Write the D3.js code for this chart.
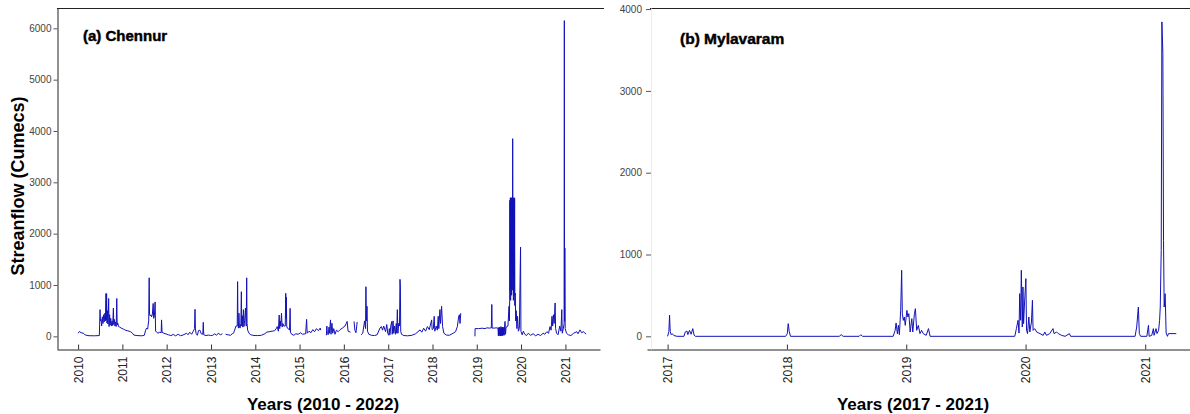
<!DOCTYPE html>
<html>
<head>
<meta charset="utf-8">
<script src="https://cdn.jsdelivr.net/npm/d3@7"></script>
<style>
  html, body { margin: 0; padding: 0; background: #fff; }
  svg { display: block; font-family: Arial, "Liberation Sans", sans-serif; }
</style>
</head>
<body>
<svg id="chart" width="1190" height="414"></svg>
<script>
// ---- Data: daily streamflow (cumecs) at two gauging stations ----
const chennurYears = [2010, 2011, 2012, 2013, 2014, 2015, 2016, 2017, 2018, 2019, 2020, 2021];
const chennurFlowTicks = [0, 1000, 2000, 3000, 4000, 5000, 6000];
// [date, flow]; null marks a gap in the record
const chennurFlow = [
  ["2010-01-01", 60], ["2010-01-12", 95], ["2010-01-25", 70], ["2010-02-15", 60], ["2010-03-01", 25],
  ["2010-04-01", 12], ["2010-05-15", 10], ["2010-06-25", 15], ["2010-07-01", 520], ["2010-07-04", 300],
  ["2010-07-09", 330], ["2010-07-14", 200], ["2010-07-20", 380], ["2010-07-25", 250], ["2010-07-30", 420],
  ["2010-08-04", 280], ["2010-08-10", 450], ["2010-08-14", 300], ["2010-08-19", 835], ["2010-08-21", 320],
  ["2010-08-24", 830], ["2010-08-27", 260], ["2010-08-31", 500], ["2010-09-04", 240], ["2010-09-10", 737],
  ["2010-09-13", 190], ["2010-09-18", 420], ["2010-09-22", 220], ["2010-09-27", 350], ["2010-10-02", 200],
  ["2010-10-08", 300], ["2010-10-13", 210], ["2010-10-19", 550], ["2010-10-22", 230], ["2010-10-27", 330],
  ["2010-11-01", 200], ["2010-11-06", 280], ["2010-11-11", 190], ["2010-11-16", 737], ["2010-11-19", 220],
  ["2010-11-24", 260], ["2010-11-30", 190], ["2010-12-10", 180], ["2010-12-22", 160],
  ["2011-01-10", 140], ["2011-01-25", 120], ["2011-02-10", 110], ["2011-02-25", 100], ["2011-03-10", 90],
  ["2011-03-25", 60], ["2011-04-05", 25], ["2011-05-01", 15], ["2011-06-10", 10], ["2011-07-01", 20],
  ["2011-07-12", 120], ["2011-07-20", 160], ["2011-07-28", 140], ["2011-08-06", 300], ["2011-08-10", 1140],
  ["2011-08-13", 420], ["2011-08-18", 400], ["2011-08-24", 420], ["2011-08-30", 380], ["2011-09-05", 420],
  ["2011-09-12", 640], ["2011-09-16", 350], ["2011-09-22", 400], ["2011-09-28", 670], ["2011-10-02", 100],
  ["2011-10-10", 90], ["2011-10-20", 60], ["2011-11-05", 80], ["2011-11-17", 70], ["2011-11-20", 320],
  ["2011-11-24", 80], ["2011-12-10", 60], ["2011-12-28", 45],
  ["2012-01-15", 30], ["2012-02-05", 15], ["2012-02-25", 35], ["2012-03-15", 10], ["2012-04-05", 40],
  ["2012-04-25", 12], ["2012-05-15", 25], ["2012-06-13", 60], ["2012-06-25", 30], ["2012-07-10", 80],
  ["2012-07-25", 40], ["2012-08-08", 100], ["2012-08-18", 150], ["2012-08-22", 526], ["2012-08-25", 160],
  ["2012-08-30", 60], ["2012-09-10", 20], ["2012-09-20", 110], ["2012-10-01", 120], ["2012-10-12", 50],
  ["2012-10-25", 40], ["2012-10-29", 272], ["2012-11-02", 30], ["2012-11-20", 15], ["2012-12-10", 25],
  ["2012-12-28", 15],
  ["2013-01-15", 20], ["2013-02-01", 50], ["2013-02-15", 20], ["2013-03-01", 60], ["2013-03-20", 30],
  ["2013-04-05", 50], ["2013-04-08", null], ["2013-05-01", 40], ["2013-05-20", 30], ["2013-06-10", 20],
  ["2013-06-25", 50], ["2013-07-05", 60], ["2013-07-15", 120], ["2013-07-25", 200], ["2013-08-05", 200],
  ["2013-08-08", 1065], ["2013-08-11", 300], ["2013-08-15", 160], ["2013-08-19", 450], ["2013-08-23", 200],
  ["2013-08-28", 160], ["2013-09-04", 250], ["2013-09-08", 870], ["2013-09-11", 200], ["2013-09-16", 400],
  ["2013-09-20", 180], ["2013-09-25", 520], ["2013-09-29", 190], ["2013-10-05", 300], ["2013-10-12", 550],
  ["2013-10-18", 200], ["2013-10-22", 1140], ["2013-10-25", 250], ["2013-10-30", 120], ["2013-11-10", 60],
  ["2013-11-25", 30], ["2013-12-10", 20], ["2013-12-30", 15],
  ["2014-01-20", 15], ["2014-02-20", 20], ["2014-03-20", 50], ["2014-04-05", 80], ["2014-04-25", 90],
  ["2014-05-20", 100], ["2014-06-10", 110], ["2014-06-25", 160], ["2014-07-01", 190], ["2014-07-10", 100],
  ["2014-07-17", 415], ["2014-07-21", 150], ["2014-07-26", 300], ["2014-07-30", 200], ["2014-08-05", 450],
  ["2014-08-10", 180], ["2014-08-16", 250], ["2014-08-24", 200], ["2014-09-05", 200], ["2014-09-09", 838],
  ["2014-09-12", 350], ["2014-09-14", 760], ["2014-09-17", 200], ["2014-09-22", 160], ["2014-10-01", 150],
  ["2014-10-10", 120], ["2014-10-15", 545], ["2014-10-18", 80], ["2014-10-28", 40], ["2014-11-15", 20],
  ["2014-12-01", 50], ["2014-12-20", 40],
  ["2015-01-10", 70], ["2015-01-25", 40], ["2015-02-20", 50], ["2015-02-28", 330], ["2015-03-05", 60],
  ["2015-03-20", 100], ["2015-04-05", 70], ["2015-04-20", 130], ["2015-05-05", 90], ["2015-05-20", 150],
  ["2015-06-05", 110], ["2015-06-20", 160], ["2015-06-24", 120], ["2015-07-01", null], ["2015-08-10", 20],
  ["2015-08-14", 200], ["2015-08-18", 50], ["2015-08-25", 30], ["2015-09-01", 180], ["2015-09-05", 60],
  ["2015-09-13", 320], ["2015-09-17", 40], ["2015-09-25", 255], ["2015-10-01", 60], ["2015-10-10", 150],
  ["2015-10-20", 40], ["2015-11-01", 120], ["2015-11-15", 90], ["2015-12-01", 130], ["2015-12-20", 160],
  ["2016-01-10", 200], ["2016-01-22", 255], ["2016-01-28", 290], ["2016-02-05", 100], ["2016-02-25", 80],
  ["2016-03-01", null], ["2016-03-25", 290], ["2016-04-01", 120], ["2016-04-10", 70], ["2016-04-20", 280],
  ["2016-04-28", null], ["2016-05-22", 30], ["2016-06-05", 60], ["2016-06-20", 300], ["2016-06-28", 150],
  ["2016-07-01", 966], ["2016-07-05", 300], ["2016-07-10", 585], ["2016-07-14", 100], ["2016-07-25", 40],
  ["2016-08-15", 20], ["2016-09-10", 15], ["2016-10-01", 30], ["2016-10-25", 160], ["2016-11-05", 190],
  ["2016-11-15", 120], ["2016-11-25", 200], ["2016-12-10", 90], ["2016-12-20", 230], ["2016-12-28", 60],
  ["2017-01-05", 20], ["2017-01-10", 150], ["2017-01-15", 30], ["2017-01-22", 200], ["2017-01-30", 290],
  ["2017-02-03", 40], ["2017-02-10", 300], ["2017-02-15", 60], ["2017-02-22", 200], ["2017-03-01", 40],
  ["2017-03-08", 250], ["2017-03-12", 60], ["2017-03-17", 520], ["2017-03-22", 60], ["2017-03-28", 250],
  ["2017-04-04", 200], ["2017-04-08", 1110], ["2017-04-11", 960], ["2017-04-14", 100], ["2017-04-20", 40],
  ["2017-05-10", 15], ["2017-06-10", 10], ["2017-07-15", 20], ["2017-08-15", 50], ["2017-09-20", 125],
  ["2017-10-05", 80], ["2017-10-20", 158], ["2017-11-05", 100], ["2017-11-20", 190], ["2017-12-05", 130],
  ["2017-12-25", 320], ["2017-12-29", 130],
  ["2018-01-08", 150], ["2018-01-15", 390], ["2018-01-20", 100], ["2018-02-01", 200], ["2018-02-10", 120],
  ["2018-02-17", 390], ["2018-02-22", 150], ["2018-03-03", 520], ["2018-03-08", 250], ["2018-03-17", 585],
  ["2018-03-25", 190], ["2018-04-05", 60], ["2018-04-25", 25], ["2018-05-20", 20], ["2018-06-20", 60],
  ["2018-07-10", 90], ["2018-07-25", 190], ["2018-08-05", 390], ["2018-08-11", 420], ["2018-08-16", 250],
  ["2018-08-22", 450], ["2018-08-25", null], ["2018-12-17", 0], ["2018-12-18", 150],
  ["2019-01-15", 150], ["2019-02-15", 158], ["2019-03-10", 150], ["2019-03-25", 165], ["2019-04-15", 160],
  ["2019-05-01", 165], ["2019-05-05", 620], ["2019-05-08", 160], ["2019-05-25", 160], ["2019-06-10", 165],
  ["2019-06-25", 160], ["2019-06-28", 10], ["2019-07-01", 170], ["2019-07-04", 10], ["2019-07-07", 180],
  ["2019-07-10", 20], ["2019-07-13", 160], ["2019-07-16", 5], ["2019-07-19", 190], ["2019-07-22", 10],
  ["2019-07-25", 170], ["2019-07-28", 20], ["2019-07-31", 180], ["2019-08-03", 10], ["2019-08-06", 160],
  ["2019-08-09", 30], ["2019-08-12", 180], ["2019-08-15", 20], ["2019-08-18", 180], ["2019-08-22", 290],
  ["2019-08-26", 40], ["2019-08-30", 160], ["2019-09-03", 170], ["2019-09-08", 200], ["2019-09-15", 200],
  ["2019-09-24", 585], ["2019-09-27", 300], ["2019-09-29", 700], ["2019-10-01", 2650], ["2019-10-03", 900],
  ["2019-10-05", 2700], ["2019-10-07", 700], ["2019-10-09", 2680], ["2019-10-11", 1000], ["2019-10-13", 2700],
  ["2019-10-15", 800], ["2019-10-17", 2690], ["2019-10-19", 900], ["2019-10-21", 2700], ["2019-10-23", 1200],
  ["2019-10-24", 3850], ["2019-10-26", 900], ["2019-10-28", 2700], ["2019-10-30", 700], ["2019-11-01", 2650],
  ["2019-11-03", 1100], ["2019-11-05", 2700], ["2019-11-07", 800], ["2019-11-09", 2690], ["2019-11-11", 600],
  ["2019-11-14", 840], ["2019-11-18", 300], ["2019-11-22", 500], ["2019-11-28", 150], ["2019-12-03", 390],
  ["2019-12-10", 100], ["2019-12-18", 150], ["2019-12-28", 1740], ["2019-12-31", 100],
  ["2020-01-10", 30], ["2020-01-20", 100], ["2020-02-01", 40], ["2020-02-15", 15], ["2020-03-01", 60],
  ["2020-03-20", 20], ["2020-04-10", 50], ["2020-05-01", 10], ["2020-05-20", 40], ["2020-06-10", 15],
  ["2020-07-01", 60], ["2020-07-15", 40], ["2020-08-01", 90], ["2020-08-15", 60], ["2020-08-27", 190],
  ["2020-09-05", 120], ["2020-09-12", 390], ["2020-09-18", 200], ["2020-09-24", 420], ["2020-09-30", 250],
  ["2020-10-08", 650], ["2020-10-12", 150], ["2020-10-20", 60], ["2020-11-01", 30], ["2020-11-15", 200],
  ["2020-11-25", 100], ["2020-12-02", 520], ["2020-12-06", 60], ["2020-12-15", 150], ["2020-12-21", 250],
  ["2020-12-23", 6150], ["2020-12-25", 300], ["2020-12-27", 1720], ["2020-12-30", 150],
  ["2021-01-10", 60], ["2021-01-25", 30], ["2021-02-15", 15], ["2021-03-10", 60], ["2021-04-05", 90],
  ["2021-04-15", 50], ["2021-05-01", 125], ["2021-05-15", 70], ["2021-05-30", 92], ["2021-06-10", 60],
  ["2021-06-21", 45]
];

const mylavaramYears = [2017, 2018, 2019, 2020, 2021];
const mylavaramFlowTicks = [0, 1000, 2000, 3000, 4000];
const mylavaramFlow = [
  ["2017-01-01", 0], ["2017-01-05", 60], ["2017-01-07", 260], ["2017-01-09", 60], ["2017-01-12", 20],
  ["2017-01-15", 33], ["2017-01-20", 10], ["2017-01-30", 0], ["2017-02-20", 0], ["2017-02-24", 53],
  ["2017-03-01", 65], ["2017-03-04", 20], ["2017-03-09", 73], ["2017-03-14", 25], ["2017-03-19", 94],
  ["2017-03-23", 15], ["2017-03-27", 0], ["2017-12-28", 0],
  ["2018-01-02", 30], ["2018-01-05", 155], ["2018-01-08", 60], ["2018-01-12", 0], ["2018-06-10", 0],
  ["2018-06-16", 20], ["2018-06-22", 0], ["2018-08-10", 0], ["2018-08-15", 20], ["2018-08-20", 0],
  ["2018-11-22", 0], ["2018-11-28", 73], ["2018-12-01", 163], ["2018-12-05", 30], ["2018-12-08", 134],
  ["2018-12-11", 20], ["2018-12-15", 318], ["2018-12-18", 807], ["2018-12-20", 277], ["2018-12-23", 195],
  ["2018-12-26", 236], ["2018-12-29", 134],
  ["2019-01-03", 318], ["2019-01-06", 236], ["2019-01-09", 277], ["2019-01-13", 53], ["2019-01-18", 216],
  ["2019-01-21", 53], ["2019-01-26", 277], ["2019-01-29", 338], ["2019-02-02", 73], ["2019-02-07", 134],
  ["2019-02-12", 33], ["2019-02-17", 73], ["2019-02-22", 33], ["2019-03-03", 12], ["2019-03-10", 94],
  ["2019-03-15", 0], ["2019-11-29", 0], ["2019-12-04", 94], ["2019-12-09", 196], ["2019-12-12", 40],
  ["2019-12-14", 522], ["2019-12-17", 196], ["2019-12-19", 807], ["2019-12-22", 114], ["2019-12-24", 603],
  ["2019-12-26", 155], ["2019-12-29", 420],
  ["2020-01-02", 705], ["2020-01-04", 73], ["2020-01-07", 33], ["2020-01-11", 236], ["2020-01-14", 53],
  ["2020-01-19", 175], ["2020-01-22", 440], ["2020-01-24", 73], ["2020-01-29", 94], ["2020-02-04", 53],
  ["2020-02-14", 33], ["2020-02-24", 12], ["2020-02-29", 53], ["2020-03-05", 12], ["2020-03-15", 33],
  ["2020-03-25", 94], ["2020-03-28", 33], ["2020-04-05", 53], ["2020-04-10", 33], ["2020-04-20", 12],
  ["2020-05-01", 0], ["2020-05-14", 33], ["2020-05-18", 0], ["2020-12-01", 0], ["2020-12-06", 114],
  ["2020-12-11", 358], ["2020-12-14", 33], ["2020-12-18", 0],
  ["2021-01-06", 0], ["2021-01-11", 134], ["2021-01-13", 0], ["2021-01-21", 12], ["2021-01-26", 94],
  ["2021-01-28", 12], ["2021-02-03", 94], ["2021-02-06", 33], ["2021-02-11", 73], ["2021-02-14", 196],
  ["2021-02-16", 358], ["2021-02-19", 1050], ["2021-02-21", 3843], ["2021-02-24", 3455], ["2021-02-26", 1173],
  ["2021-02-28", 358], ["2021-03-03", 521], ["2021-03-06", 40], ["2021-03-10", 0], ["2021-03-13", 33],
  ["2021-04-06", 33]
];

// ---- Drawing ----
const parseDate = d3.timeParse("%Y-%m-%d");
const svg = d3.select("#chart");
const lineColor = "#1212b8";
const frameColor = "#222";

function drawPanel(p) {
  const g = svg.append("g");
  const series = p.data.map(([d, v]) => ({ date: parseDate(d), flow: v }));

  const x = d3.scaleTime()
    .domain([parseDate(p.xStart), parseDate(p.xEnd)])
    .range([p.left, p.right]);
  const y = d3.scaleLinear()
    .domain(p.yDomain)
    .range([p.bottom, p.top]);

  // top border
  g.append("line")
    .attr("x1", p.topLineFrom).attr("x2", p.topLineTo)
    .attr("y1", p.top + 0.5).attr("y2", p.top + 0.5)
    .attr("stroke", frameColor).attr("stroke-width", 1);

  // flow series
  const line = d3.line()
    .defined(d => d.flow != null)
    .x(d => x(d.date))
    .y(d => y(d.flow));
  g.append("path")
    .datum(series)
    .attr("fill", "none")
    .attr("stroke", lineColor)
    .attr("stroke-width", 1)
    .attr("stroke-linejoin", "miter")
    .attr("d", line);

  // x axis with year ticks pointing inward
  const xAxis = d3.axisBottom(x)
    .tickValues(p.years.map(yr => new Date(yr, 0, 1)))
    .tickFormat(d3.timeFormat("%Y"))
    .tickSizeInner(-5)
    .tickSizeOuter(0);
  const gx = g.append("g")
    .attr("transform", `translate(0,${p.bottom + 0.5})`)
    .call(xAxis);
  gx.select(".domain").attr("stroke", frameColor);
  gx.selectAll(".tick line").attr("stroke", "#333");
  gx.selectAll(".tick text")
    .attr("transform", "rotate(-90)")
    .attr("text-anchor", "end")
    .attr("x", -7)
    .attr("y", 0)
    .attr("dy", "0.36em")
    .attr("font-size", 12)
    .attr("font-family", "Arial, 'Liberation Sans', sans-serif")
    .attr("fill", "#222");

  // y axis
  const yAxis = d3.axisLeft(y)
    .tickValues(p.flowTicks)
    .tickFormat(d3.format("d"))
    .tickSizeInner(p.yTickSize)
    .tickSizeOuter(0)
    .tickPadding(p.yTickPad);
  const gy = g.append("g")
    .attr("transform", `translate(${p.yAxisX},0)`)
    .call(yAxis);
  gy.select(".domain")
    .attr("stroke", p.yDomainColor);
  gy.selectAll(".tick line").attr("stroke", "#555");
  gy.selectAll(".tick text")
    .attr("font-size", 10)
    .attr("font-family", "Arial, 'Liberation Sans', sans-serif")
    .attr("fill", "#444");

  // panel label
  g.append("text")
    .attr("x", p.labelX).attr("y", p.labelY)
    .attr("font-size", p.labelSize)
    .attr("font-weight", "bold")
    .attr("stroke", "#000").attr("stroke-width", 0.45)
    .attr("fill", "#000")
    .text(p.label);

  // x axis title
  g.append("text")
    .attr("x", p.xTitleX).attr("y", 410)
    .attr("text-anchor", "middle")
    .attr("font-size", 17)
    .attr("font-weight", "bold")
    .attr("fill", "#000")
    .text(p.xTitle);
}

drawPanel({
  data: chennurFlow,
  years: chennurYears,
  flowTicks: chennurFlowTicks,
  xStart: "2009-07-11", xEnd: "2021-10-13",
  yDomain: [-247, 6396],
  left: 57, right: 600, top: 8, bottom: 349,
  topLineFrom: 57, topLineTo: 604,
  yAxisX: 57.5, yTickSize: 4, yTickPad: 2, yDomainColor: frameColor,
  label: "(a) Chennur", labelX: 83, labelY: 40.5, labelSize: 15,
  xTitle: "Years (2010 - 2022)", xTitleX: 323
});

drawPanel({
  data: mylavaramFlow,
  years: mylavaramYears,
  flowTicks: mylavaramFlowTicks,
  xStart: "2016-10-30", xEnd: "2021-05-18",
  yDomain: [-155, 4013],
  left: 647, right: 1190, top: 8, bottom: 349,
  topLineFrom: 650, topLineTo: 1190,
  yAxisX: 651, yTickSize: 5, yTickPad: 4, yDomainColor: "#ececec",
  label: "(b) Mylavaram", labelX: 680, labelY: 44, labelSize: 15.5,
  xTitle: "Years (2017 - 2021)", xTitleX: 913
});

// shared y axis title
svg.append("text")
  .attr("transform", "translate(24,186) rotate(-90)")
  .attr("text-anchor", "middle")
  .attr("font-size", 18)
  .attr("font-weight", "bold")
  .attr("fill", "#000")
  .text("Streanflow (Cumecs)");
</script>
</body>
</html>
